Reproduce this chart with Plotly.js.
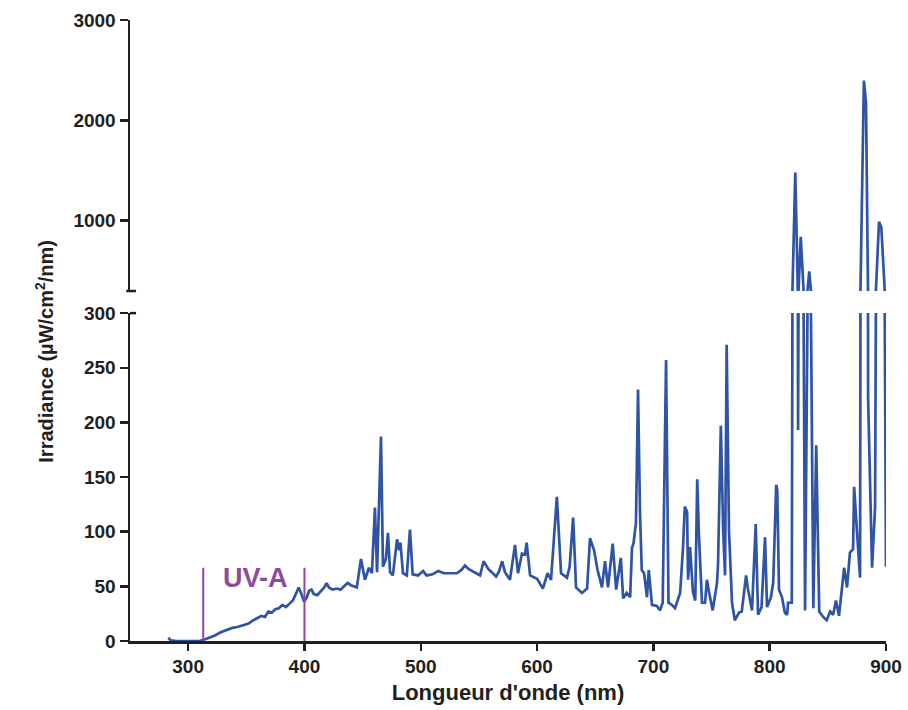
<!DOCTYPE html>
<html>
<head>
<meta charset="utf-8">
<script src="https://cdn.plot.ly/plotly-3.0.1.min.js"></script>
<style>html,body{margin:0;padding:0;background:#fff;}#chart{width:908px;height:710px;}</style>
</head>
<body>
<div id="chart"></div>
<script>
// Wavelength (nm)
var wavelength = [283,285,290,300,310,313,318,323,328,333,338,343,348,352,356,360,363,366,369,372,375,378,381,384,387,390,393,395,397,399.6,402,404,406,408,411,414,417,419,421,424,428,431,434,437,440,445,448.6,452,455.5,458,460.6,462.4,465.8,467.5,470,471.8,473.6,476,479.6,481.3,482.5,484.7,488,490.7,493,497.6,502,505,510,515,520,526,531,535,538,541,544,548,551,554,558,561,564.7,567,570,572.4,576.7,581,583.6,587,589.6,591,594,600,605,609,612,617,620.6,625.7,628,631,633.5,638.6,643,645.5,649,652,655.8,658.4,661,665,668,672,674,677,680,681.6,683,685,686.8,688.5,690,692,694.5,696,698.8,703,705.7,708,710.9,713,716,718.6,723,725.5,727,729,729.8,731.5,734,736,737.7,739,741.8,744.4,746,748,751,754.7,755.6,758,760,761.6,763,765,767.6,770,773.7,776,779.7,781.4,784.8,788,790,793,796,797.7,801,803,805.6,806.5,808,810.6,813,815,815.8,819,822,824.4,826.7,830.4,834,837.5,840,842.6,846,849,852,854.6,857,859.6,864,866.5,869,871.7,872.6,875,877.7,881,882.8,884.6,888,890.6,894,896,900];
// Irradiance (µW/cm²/nm)
var irradiance = [3,0.5,0,0,0,1,3,5,8,10,12,13,15,16,19,21,23,22,27,26,29,30,33,31,34,37,44,49,44,36,40,46,47,43,42,46,49,53,49,47,48,47,50,53,51,49,75,56,67,62,122,63,187,68,75,99,63,60,93,83,90,62,60,102,61,60,64,60,61,64,62,62,62,65,69,66,64,62,60,73,66,63,59,63,73,63,56,88,62,80,79,90,60,57,48,62,56,132,62,58,68,113,49,44,48,94,83,65,49,73,49,89,47,76,39,44,40,85,90,108,230,117,65,62,40,65,33,32,28,35,257,35,33,30,44,86,123,118,56,86,45,37,148,101,35,35,56,44,28,53,71,197,101,60,271,101,35,19,26,27,60,47,28,107,24,31,95,31,40,53,143,138,47,40,26,24,35,35,1480,193,840,28,495,30,179,27,22,19,27,24,37,23,67,49,81,84,141,101,58,2396,2174,223,67,122,990,930,68];
var xTicks = [300,400,500,600,700,800,900];
var yLowTicks = [0,50,100,150,200,250,300];
var yHighTicks = [1000,2000,3000];
var uvaBounds = [313,400];

var axisColor = '#231f20';
var lineColor = '#2f54a6';
var uvaColor = '#8b4a9f';
var fontFam = '"Liberation Sans", Arial, sans-serif';

var traces = [
  {x: wavelength, y: irradiance, type: 'scatter', mode: 'lines', xaxis: 'x', yaxis: 'y',
   line: {color: lineColor, width: 2.7}, hoverinfo: 'x+y', showlegend: false},
  {x: wavelength, y: irradiance, type: 'scatter', mode: 'lines', xaxis: 'x', yaxis: 'y2',
   line: {color: lineColor, width: 2.7}, hoverinfo: 'x+y', showlegend: false}
];

var shapes = uvaBounds.map(function (b) {
  return {type: 'line', xref: 'x', yref: 'y', x0: b, x1: b, y0: 0, y1: 67,
          line: {color: uvaColor, width: 2}};
});
// axis break caps
shapes.push({type: 'line', xref: 'paper', yref: 'paper', x0: -0.005, x1: 0.008,
             y0: 0.5636, y1: 0.5636, line: {color: axisColor, width: 2.5}});
shapes.push({type: 'line', xref: 'paper', yref: 'paper', x0: 0, x1: 0.008,
             y0: 0.528, y1: 0.528, line: {color: axisColor, width: 2.5}});

var tickFont = {family: fontFam, size: 19, color: axisColor, weight: 'bold'};

var layout = {
  width: 908, height: 710,
  margin: {l: 130, r: 22, t: 20, b: 69},
  paper_bgcolor: '#ffffff', plot_bgcolor: '#ffffff',
  font: {family: fontFam, color: axisColor},
  showlegend: false,
  xaxis: {
    range: [250, 900], tickvals: xTicks, ticktext: xTicks.map(String),
    showgrid: false, zeroline: false, showline: true, linecolor: axisColor, linewidth: 2.5,
    ticks: 'outside', ticklen: 7, tickwidth: 2.5, tickcolor: axisColor,
    tickfont: tickFont, anchor: 'y',
    title: {text: "Longueur d'onde (nm)", font: {family: fontFam, size: 22, color: axisColor, weight: 'bold'}, standoff: 9}
  },
  yaxis: {
    domain: [0, 0.528], range: [0, 300], tickvals: yLowTicks, ticktext: yLowTicks.map(String),
    showgrid: false, zeroline: false, showline: true, linecolor: axisColor, linewidth: 2.5,
    ticks: 'outside', ticklen: 8, tickwidth: 2.5, tickcolor: axisColor,
    tickfont: tickFont, anchor: 'x'
  },
  yaxis2: {
    domain: [0.5636, 1], range: [300, 3000], tickvals: yHighTicks, ticktext: yHighTicks.map(String),
    showgrid: false, zeroline: false, showline: true, linecolor: axisColor, linewidth: 2.5,
    ticks: 'outside', ticklen: 8, tickwidth: 2.5, tickcolor: axisColor,
    tickfont: tickFont, anchor: 'x'
  },
  shapes: shapes,
  annotations: [
    {text: 'UV-A', xref: 'x', yref: 'y', x: 357.5, y: 58, showarrow: false,
     font: {family: fontFam, size: 27, color: uvaColor, weight: 'bold'}},
    {text: 'Irradiance (µW/cm<sup>2</sup>/nm)', xref: 'paper', yref: 'paper',
     x: -0.132, y: 0.467, textangle: -90, showarrow: false,
     font: {family: fontFam, size: 20, color: axisColor, weight: 'bold'}}
  ]
};

Plotly.newPlot('chart', traces, layout, {displayModeBar: false, staticPlot: true});
</script>
</body>
</html>
